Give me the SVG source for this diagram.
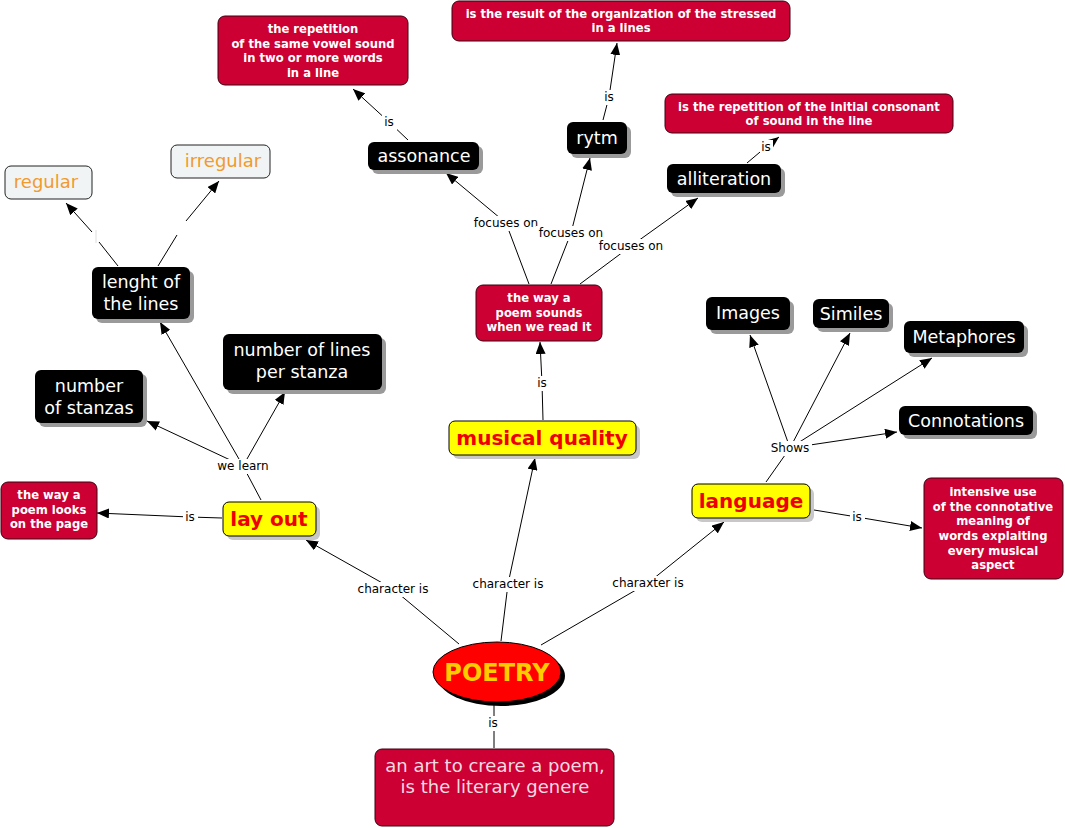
<svg xmlns="http://www.w3.org/2000/svg" width="1065" height="828" viewBox="0 0 1065 828">
<defs>
<style>
.red{fill:#cc0033;stroke:#3a0010;stroke-width:1}
.rt{fill:#fff;font-family:"DejaVu Sans",Verdana,sans-serif;font-weight:bold;font-size:11.6px;text-anchor:middle}
.blk{fill:#000}
.sh{fill:#9a9a9a}
.bt{fill:#fff;font-family:"DejaVu Sans",Verdana,sans-serif;font-size:17.5px;text-anchor:middle}
.yel{fill:#ffff00;stroke:#000;stroke-width:1}
.ysh{fill:#c8c8c8}
.yt{fill:#ee0000;font-family:"DejaVu Sans",Verdana,sans-serif;font-weight:bold;font-size:20px;text-anchor:middle}
.lt{fill:#f0f4f5;stroke:#222;stroke-width:1}
.ot{fill:#f29a2e;font-family:"DejaVu Sans",Verdana,sans-serif;font-size:18px;text-anchor:middle}
.ln{fill:none;stroke:#000;stroke-width:1}
.lb{fill:#000;font-family:"DejaVu Sans",Verdana,sans-serif;font-size:12px;text-anchor:middle}
.lbg{fill:#fff}
</style>
<marker id="a" markerWidth="12" markerHeight="10" refX="12" refY="5" orient="auto" markerUnits="userSpaceOnUse"><path d="M0,0 L12,5 L0,10 z" fill="#000"/></marker>
</defs>
<rect width="1065" height="828" fill="#fff"/>

<g id="connectors">
<polyline class="ln" points="459,644 393,589 306,540" marker-end="url(#a)"/>
<polyline class="ln" points="501,641 508,584 535,458" marker-end="url(#a)"/>
<polyline class="ln" points="541,645 648,583 724,522" marker-end="url(#a)"/>
<line class="ln" x1="494" y1="705" x2="494" y2="748"/>
<polyline class="ln" points="222,518 190,517 97,513" marker-end="url(#a)"/>
<polyline class="ln" points="261,500 243,466 160,322" marker-end="url(#a)"/>
<polyline class="ln" points="243,466 147,421" marker-end="url(#a)"/>
<polyline class="ln" points="243,466 285,392" marker-end="url(#a)"/>
<line class="ln" x1="118" y1="266" x2="99" y2="242"/>
<line x1="96" y1="230" x2="96" y2="243" stroke="#ddd" stroke-width="1"/>
<line class="ln" x1="92" y1="232" x2="66" y2="203" marker-end="url(#a)"/>
<line class="ln" x1="158" y1="266" x2="177" y2="235"/>
<line class="ln" x1="186" y1="221" x2="219" y2="181" marker-end="url(#a)"/>
<polyline class="ln" points="543,420 542,383 540,342" marker-end="url(#a)"/>
<polyline class="ln" points="529,284 506,223 446,173" marker-end="url(#a)"/>
<polyline class="ln" points="551,284 571,233 590,158" marker-end="url(#a)"/>
<polyline class="ln" points="580,284 631,246 698,198" marker-end="url(#a)"/>
<polyline class="ln" points="408,140 389,122 353,89" marker-end="url(#a)"/>
<polyline class="ln" points="603,120 609,97 617,43" marker-end="url(#a)"/>
<polyline class="ln" points="747,163 766,147 779,137" marker-end="url(#a)"/>
<polyline class="ln" points="766,482 790,448 750,335" marker-end="url(#a)"/>
<polyline class="ln" points="790,448 850,333" marker-end="url(#a)"/>
<polyline class="ln" points="790,448 932,358" marker-end="url(#a)"/>
<polyline class="ln" points="790,448 897,432" marker-end="url(#a)"/>
<polyline class="ln" points="814,510 857,517 922,528" marker-end="url(#a)"/>

<rect class="lbg" x="355" y="582" width="76" height="15"/><text class="lb" x="393" y="593">character is</text>
<rect class="lbg" x="470" y="577" width="76" height="15"/><text class="lb" x="508" y="588">character is</text>
<rect class="lbg" x="610" y="576" width="76" height="15"/><text class="lb" x="648" y="587">charaxter is</text>
<rect class="lbg" x="486" y="716" width="15" height="15"/><text class="lb" x="493" y="727">is</text>
<rect class="lbg" x="183" y="510" width="15" height="15"/><text class="lb" x="190" y="521">is</text>
<rect class="lbg" x="213" y="459" width="60" height="15"/><text class="lb" x="243" y="470">we learn</text>
<rect class="lbg" x="535" y="376" width="15" height="15"/><text class="lb" x="542" y="387">is</text>
<rect class="lbg" x="471" y="216" width="70" height="15"/><text class="lb" x="506" y="227">focuses on</text>
<rect class="lbg" x="536" y="226" width="70" height="15"/><text class="lb" x="571" y="237">focuses on</text>
<rect class="lbg" x="596" y="239" width="70" height="15"/><text class="lb" x="631" y="250">focuses on</text>
<rect class="lbg" x="382" y="115" width="15" height="15"/><text class="lb" x="389" y="126">is</text>
<rect class="lbg" x="602" y="90" width="15" height="15"/><text class="lb" x="609" y="101">is</text>
<rect class="lbg" x="760" y="140" width="13" height="14"/><text class="lb" x="766" y="151">is</text>
<rect class="lbg" x="768" y="441" width="44" height="15"/><text class="lb" x="790" y="452">Shows</text>
<rect class="lbg" x="850" y="510" width="15" height="15"/><text class="lb" x="857" y="521">is</text>
</g>

<g id="n-repetition"><rect class="red" x="218" y="16" width="190" height="69" rx="7"/>
<text class="rt" x="313" y="33">the repetition</text><text class="rt" x="313" y="48">of the same vowel sound</text><text class="rt" x="313" y="62">in two or more words</text><text class="rt" x="313" y="77">in a line</text></g>

<g id="n-result"><rect class="red" x="452" y="1" width="338" height="40" rx="7"/>
<text class="rt" x="621" y="18">is the result of the organization of the stressed</text><text class="rt" x="621" y="32">in a lines</text></g>

<g id="n-initial"><rect class="red" x="665" y="94" width="288" height="39" rx="7"/>
<text class="rt" x="809" y="111">is the repetition of the initial consonant</text><text class="rt" x="809" y="125">of sound in the line</text></g>

<g id="n-regular"><rect class="lt" x="5" y="166" width="87" height="33" rx="6"/><text class="ot" x="46" y="188">regular</text></g>
<g id="n-irregular"><rect class="lt" x="171" y="145" width="99" height="33" rx="6"/><text class="ot" x="223" y="167">irregular</text></g>

<g id="n-assonance"><rect class="sh" x="372" y="146" width="111" height="28" rx="6"/><rect class="blk" x="368" y="142" width="111" height="28" rx="6"/><text class="bt" x="424" y="162">assonance</text></g>
<g id="n-rytm"><rect class="sh" x="571" y="126" width="60" height="32" rx="6"/><rect class="blk" x="567" y="122" width="60" height="32" rx="6"/><text class="bt" x="597" y="144">rytm</text></g>
<g id="n-alliteration"><rect class="sh" x="671" y="168" width="114" height="29" rx="6"/><rect class="blk" x="667" y="164" width="114" height="29" rx="6"/><text class="bt" x="724" y="185">alliteration</text></g>

<g id="n-lenght"><rect class="sh" x="96" y="271" width="98" height="52" rx="6"/><rect class="blk" x="92" y="267" width="98" height="52" rx="6"/><text class="bt" x="141" y="288">lenght of</text><text class="bt" x="141" y="310">the lines</text></g>
<g id="n-perstanza"><rect class="sh" x="227" y="338" width="159" height="56" rx="6"/><rect class="blk" x="223" y="334" width="159" height="56" rx="6"/><text class="bt" x="302" y="356">number of lines</text><text class="bt" x="302" y="378">per stanza</text></g>
<g id="n-stanzas"><rect class="sh" x="39" y="374" width="108" height="53" rx="6"/><rect class="blk" x="35" y="370" width="108" height="53" rx="6"/><text class="bt" x="89" y="392">number</text><text class="bt" x="89" y="414">of stanzas</text></g>

<g id="n-sounds"><rect class="red" x="476" y="285" width="126" height="56" rx="7"/>
<text class="rt" x="539" y="302">the way a</text><text class="rt" x="539" y="317">poem sounds</text><text class="rt" x="539" y="331">when we read it</text></g>

<g id="n-images"><rect class="sh" x="710" y="301" width="84" height="33" rx="6"/><rect class="blk" x="706" y="297" width="84" height="33" rx="6"/><text class="bt" x="748" y="319">Images</text></g>
<g id="n-similes"><rect class="sh" x="817" y="303" width="76" height="29" rx="6"/><rect class="blk" x="813" y="299" width="76" height="29" rx="6"/><text class="bt" x="851" y="320">Similes</text></g>
<g id="n-metaphores"><rect class="sh" x="908" y="325" width="120" height="32" rx="6"/><rect class="blk" x="904" y="321" width="120" height="32" rx="6"/><text class="bt" x="964" y="343">Metaphores</text></g>
<g id="n-connotations"><rect class="sh" x="903" y="410" width="134" height="29" rx="6"/><rect class="blk" x="899" y="406" width="134" height="29" rx="6"/><text class="bt" x="966" y="427">Connotations</text></g>

<g id="n-musical"><rect class="ysh" x="453" y="425" width="187" height="34" rx="6"/><rect class="yel" x="449" y="421" width="187" height="34" rx="6"/><text class="yt" x="542" y="445">musical quality</text></g>
<g id="n-language"><rect class="ysh" x="696" y="488" width="118" height="34" rx="6"/><rect class="yel" x="692" y="484" width="118" height="34" rx="6"/><text class="yt" x="751" y="508">language</text></g>
<g id="n-layout"><rect class="ysh" x="227" y="506" width="93" height="34" rx="6"/><rect class="yel" x="223" y="502" width="93" height="34" rx="6"/><text class="yt" x="269" y="526">lay out</text></g>

<g id="n-looks"><rect class="red" x="1" y="482" width="96" height="57" rx="7"/>
<text class="rt" x="49" y="499">the way a</text><text class="rt" x="49" y="514">poem looks</text><text class="rt" x="49" y="528">on the page</text></g>

<g id="n-intensive"><rect class="red" x="924" y="478" width="139" height="101" rx="7"/>
<text class="rt" x="993" y="496">intensive use</text><text class="rt" x="993" y="511">of the connotative</text><text class="rt" x="993" y="525">meaning of</text><text class="rt" x="993" y="540">words explaiting</text><text class="rt" x="993" y="555">every musical</text><text class="rt" x="993" y="569">aspect</text></g>

<g id="n-poetry"><ellipse cx="501" cy="676" rx="64" ry="30" fill="#000"/><ellipse cx="497" cy="672" rx="64" ry="30" fill="#ff0000" stroke="#000" stroke-width="1"/>
<text x="497" y="681" fill="#ffcc00" font-family="'DejaVu Sans',Verdana,sans-serif" font-weight="bold" font-size="24" text-anchor="middle">POETRY</text></g>

<g id="n-art"><rect class="red" x="375" y="749" width="239" height="77" rx="7"/>
<text x="495" y="772" fill="#f3dbe1" font-family="'DejaVu Sans',Verdana,sans-serif" font-size="18" text-anchor="middle">an art to creare a poem,</text>
<text x="495" y="793" fill="#f3dbe1" font-family="'DejaVu Sans',Verdana,sans-serif" font-size="18" text-anchor="middle">is the literary genere</text></g>
</svg>
